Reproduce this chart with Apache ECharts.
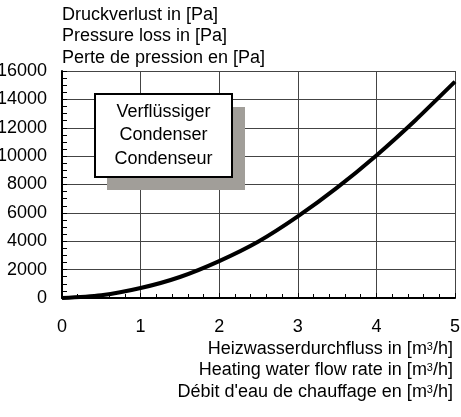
<!DOCTYPE html>
<html>
<head>
	<meta charset="UTF-8">
	<title>Druckverlust Verflüssiger</title>
	<style>
		html, body { margin: 0; padding: 0; background: #fff; }
		#container { width: 461px; height: 417px; }
	</style>
</head>
<body>
	<div id="container"></div>
	<script src="https://cdn.jsdelivr.net/npm/echarts@6/dist/echarts.min.js"></script>
	<script>
		// Heizwasserdurchfluss [m3/h] / Druckverlust [Pa]
		var flowRate = [0, 0.5, 1, 1.5, 2, 2.5, 3, 3.5, 4, 4.5, 5];
		var pressureLoss = [0, 190, 700, 1480, 2600, 3980, 5750, 7780, 10050, 12550, 15250];
		var yTitle = ['Druckverlust in [Pa]', 'Pressure loss in [Pa]', 'Perte de pression en [Pa]'];
		var xTitle = ['Heizwasserdurchfluss in [m{sup|3}/h]', 'Heating water flow rate in [m{sup|3}/h]', "Débit d'eau de chauffage en [m{sup|3}/h]"];
		var boxText = ['Verflüssiger', 'Condenser', 'Condenseur'];

		var font = "'Liberation Sans', Arial, sans-serif";
		var points = flowRate.map(function (x, i) { return [x, pressureLoss[i]]; });

		var dom = document.getElementById('container');
		var myChart = echarts.init(dom);

		var option = {
			animation: false,
			textStyle: { fontFamily: font },
			grid: { left: 62, right: 6, top: 71, bottom: 119, outerBoundsMode: 'none' },
			xAxis: {
				type: 'value',
				min: 0,
				max: 5,
				interval: 1,
				axisLine: { lineStyle: { color: '#000', width: 2 } },
				axisTick: { inside: true, length: 5, lineStyle: { color: '#000' } },
				minorTick: { show: true, splitNumber: 5, length: 4, lineStyle: { color: '#000' } },
				axisLabel: { color: '#000', fontSize: 18, fontFamily: font, margin: 20 },
				splitLine: { show: true, lineStyle: { color: '#444', width: 1 } }
			},
			yAxis: {
				type: 'value',
				min: 0,
				max: 16000,
				interval: 2000,
				axisLine: { show: true, lineStyle: { color: '#000', width: 2 } },
				axisTick: { show: true, inside: true, length: 5, lineStyle: { color: '#000' } },
				minorTick: { show: true, splitNumber: 4, length: 5, lineStyle: { color: '#000' } },
				axisLabel: {
					color: '#000', fontSize: 18, fontFamily: font, margin: 15,
					formatter: function (v) { return String(v); }
				},
				splitLine: { show: true, lineStyle: { color: '#444', width: 1 } }
			},
			series: [{
				type: 'line',
				data: points,
				smooth: 0.3,
				symbol: 'none',
				lineStyle: { color: '#000', width: 4 },
				z: 5
			}],
			graphic: [
				{
					type: 'text',
					x: 62,
					y: 4,
					style: { text: yTitle.join('\n'), font: '18px ' + font, fill: '#000', lineHeight: 21.5 }
				},
				{
					type: 'text',
					x: 453,
					y: 338,
					style: {
						text: xTitle.join('\n'),
						font: '18px ' + font,
						fill: '#000',
						lineHeight: 21.5,
						align: 'right',
						rich: {
							sup: { fontSize: 11, fontFamily: font, fill: '#000', lineHeight: 21.5, verticalAlign: 'top', padding: [3, 0, 0, 0] }
						}
					}
				},
				{
					type: 'rect',
					z: 10,
					shape: { x: 107, y: 107, width: 138, height: 83 },
					style: { fill: '#a19e99' }
				},
				{
					type: 'rect',
					z: 11,
					shape: { x: 95, y: 94, width: 137, height: 83 },
					style: { fill: '#fff', stroke: '#000', lineWidth: 2 }
				},
				{
					type: 'text',
					z: 12,
					x: 163.5,
					y: 135.5,
					style: {
						text: boxText.join('\n'),
						font: '18px ' + font,
						fill: '#000',
						lineHeight: 23.3,
						align: 'center',
						verticalAlign: 'middle'
					}
				}
			]
		};

		if (option && typeof option === 'object') {
			myChart.setOption(option, true);
		}
	</script>
</body>
</html>
